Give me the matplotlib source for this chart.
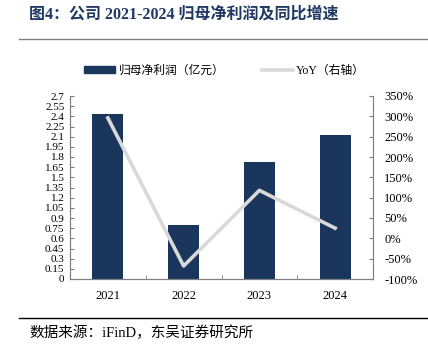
import matplotlib
matplotlib.use("Agg")
import matplotlib.pyplot as plt
import numpy as np
from matplotlib.lines import Line2D

plt.rcParams['font.family'] = ['Liberation Serif', 'Noto Sans CJK SC']

years = ['2021', '2022', '2023', '2024']
profit = [2.44, 0.80, 1.73, 2.12]
yoy = [296, -68, 118, 25]
left_ticks = [0, 0.15, 0.3, 0.45, 0.6, 0.75, 0.9, 1.05, 1.2, 1.35, 1.5, 1.65, 1.8, 1.95, 2.1, 2.25, 2.4, 2.55, 2.7]
left_labels = ['0', '0.15', '0.3', '0.45', '0.6', '0.75', '0.9', '1.05', '1.2', '1.35', '1.5', '1.65', '1.8', '1.95', '2.1', '2.25', '2.4', '2.55', '2.7']
right_ticks = [-100, -50, 0, 50, 100, 150, 200, 250, 300, 350]

bar_color = '#1B365D'
line_color = '#D9D9D9'
spine_color = '#808080'

fig = plt.figure(figsize=(4.28, 3.54), dpi=100)
ax = fig.add_axes([70/428, 1-279/354, 303/428, 183/354])
x = np.arange(len(years))
ax.bar(x, profit, width=0.41, color=bar_color, zorder=2)
ax.set_xlim(-0.5, 3.5)
ax.set_ylim(0, 2.7)
ax.set_yticks(left_ticks)
ax.set_yticklabels(left_labels, fontsize=8)
ax.set_xticks(x)
ax.set_xticklabels(years, fontsize=9)
ax.set_xticks([0.5, 1.5, 2.5], minor=True)
ax.tick_params(axis='x', which='major', length=0, pad=8)
ax.tick_params(axis='x', which='minor', length=3, direction='in', color=spine_color)
ax.tick_params(axis='y', length=3, direction='in', color=spine_color, pad=4)
ax.spines['top'].set_visible(False)
for s in ['left', 'bottom', 'right']:
    ax.spines[s].set_color(spine_color)
    ax.spines[s].set_linewidth(0.8)

ax2 = ax.twinx()
ax2.plot(x, yoy, color=line_color, linewidth=2.6, zorder=3)
ax2.set_ylim(-100, 350)
ax2.set_yticks(right_ticks)
ax2.set_yticklabels([f'{v}%' for v in right_ticks], fontsize=9)
ax2.tick_params(axis='y', length=3, direction='in', color=spine_color, pad=8)
ax2.spines['top'].set_visible(False)
for s in ['left', 'bottom', 'right']:
    ax2.spines[s].set_color(spine_color)
    ax2.spines[s].set_linewidth(0.8)

handles = [plt.Rectangle((0, 0), 1, 1, color=bar_color),
           Line2D([0], [0], color=line_color, linewidth=2.6)]
fig.legend(handles, ['归母净利润（亿元）', 'YoY（右轴）'], loc='center', bbox_to_anchor=(0.525, 1-71/354),
           ncol=2, frameon=False, handlelength=2.6, handleheight=0.5,
           columnspacing=3.2, handletextpad=0.3,
           prop={'family': ['Liberation Serif', 'Noto Sans CJK SC'], 'size': 8.5})

fig.text(29/428, 1-15/354, '图4：公司 2021-2024 归母净利润及同比增速', fontsize=11.5, fontweight='bold',
         color='#1F3864', va='center', ha='left', family=['Liberation Serif', 'Noto Sans CJK SC'])
fig.add_artist(Line2D([19/428, 1], [1-39/354, 1-39/354], color='#808080', linewidth=1.0, transform=fig.transFigure))
fig.add_artist(Line2D([19/428, 1], [1-318/354, 1-318/354], color='#000000', linewidth=1.0, transform=fig.transFigure))
fig.text(29/428, 1-333/354, '数据来源：iFinD，东吴证券研究所', fontsize=10.5, va='center', ha='left',
         family=['Liberation Serif', 'Noto Sans CJK SC'])

fig.savefig('out.png', dpi=100)
